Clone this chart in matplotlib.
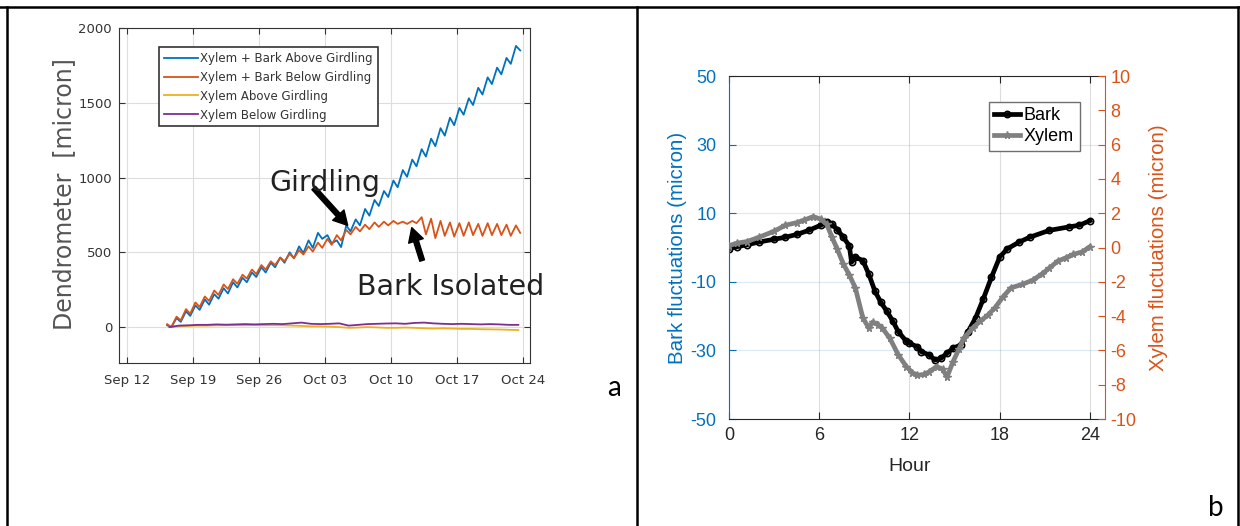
import numpy as np
import matplotlib
matplotlib.use("Agg")
import matplotlib.pyplot as plt
import matplotlib.dates as mdates
from matplotlib.lines import Line2D

plt.rcParams['axes.unicode_minus'] = False

# ---- panel a: dendrometer readings, Sep 16 - Oct 23 (daily high / daily low)
days = np.arange('2016-09-16', '2016-10-24', dtype='datetime64[D]')
bark_above_hi = [12, 60, 105, 145, 185, 220, 260, 300, 330, 365, 400, 430, 465, 500, 540, 580, 630, 615, 580,
                 680, 720, 790, 850, 910, 980, 1050, 1120, 1190, 1260, 1330, 1400, 1465, 1530, 1600, 1670,
                 1735, 1800, 1880]
bark_above_lo = [0, 35, 75, 115, 150, 190, 225, 265, 300, 335, 365, 400, 430, 460, 495, 530, 590, 560, 535,
                 640, 680, 745, 810, 870, 935, 1005, 1075, 1140, 1210, 1280, 1350, 1420, 1485, 1555, 1625,
                 1690, 1760, 1850]
bark_below_hi = [20, 70, 120, 165, 205, 245, 285, 320, 350, 385, 415, 440, 465, 490, 515, 540, 565, 590, 615,
                 650, 670, 685, 700, 705, 710, 705, 710, 735, 725, 710, 700, 695, 700, 690, 695, 690, 685, 680]
bark_below_lo = [0, 45, 90, 135, 175, 215, 255, 290, 325, 355, 385, 415, 440, 460, 485, 505, 530, 550, 580,
                 620, 640, 655, 670, 680, 690, 690, 695, 620, 595, 610, 605, 610, 615, 610, 615, 615, 610, 630]
xylem_above = [0, 5, 8, 10, 10, 12, 12, 13, 12, 14, 12, 13, 12, 10, 8, 5, 5, 3, 0, -5, -3, 0, -2, -5, -5, -3,
               -5, -8, -10, -8, -10, -12, -12, -14, -15, -16, -18, -20]
xylem_below = [0, 10, 12, 15, 15, 18, 16, 18, 20, 18, 20, 22, 20, 25, 30, 22, 20, 22, 25, 10, 15, 20, 22, 24,
               25, 22, 28, 30, 25, 22, 20, 22, 20, 18, 20, 18, 15, 15]
labels_a = ["Xylem + Bark Above Girdling", "Xylem + Bark Below Girdling",
            "Xylem Above Girdling", "Xylem Below Girdling"]

# ---- panel b: mean diurnal fluctuations
bark_hour = [0, 0.5, 1.2, 2, 3, 3.75, 4.5, 5.3, 6.1, 6.5, 6.85, 7.2, 7.6, 8.0, 8.15, 8.4, 8.9, 9.3, 9.7, 10.1,
             10.5, 10.9, 11.25, 11.8, 12.0, 12.5, 12.8, 13.3, 13.7, 14.1, 14.5, 14.9, 15.4, 15.9, 16.4, 16.9,
             17.45, 18.0, 18.5, 19.3, 20.0, 21.3, 22.6, 23.3, 24]
bark_val = [-0.3, 0.2, 0.8, 1.6, 2.4, 3.0, 3.8, 5.0, 6.5, 7.5, 6.8, 5.2, 3.0, 0.5, -4.3, -2.8, -3.8, -7.8,
            -12.7, -16.0, -18.6, -21.5, -24.5, -27.4, -27.9, -28.9, -30.4, -31.3, -32.8, -32.3, -30.8, -29.4,
            -28.4, -24.5, -20.5, -15.1, -8.7, -2.8, -0.4, 1.6, 3.0, 5.0, 6.0, 6.5, 7.8]
xylem_hour = [0, 0.5, 1.2, 2.0, 3.0, 3.75, 4.5, 5.0, 5.6, 6.1, 6.5, 6.85, 7.2, 7.6, 8.0, 8.4, 8.9, 9.3, 9.55,
              9.9, 10.2, 10.7, 11.25, 11.8, 12.2, 12.5, 13.0, 13.3, 13.8, 14.2, 14.5, 14.9, 15.3, 15.6, 16.2,
              16.7, 17.2, 17.7, 18.2, 18.75, 19.5, 20.2, 20.8, 21.3, 21.85, 22.4, 22.9, 23.5, 24]
xylem_val = [0.1, 0.25, 0.35, 0.6, 0.95, 1.3, 1.45, 1.6, 1.8, 1.65, 1.35, 0.6, -0.1, -0.95, -1.6, -2.35, -4.1,
             -4.7, -4.35, -4.5, -4.7, -5.3, -6.25, -6.95, -7.3, -7.45, -7.4, -7.25, -6.95, -7.1, -7.55, -6.65,
             -5.9, -5.3, -4.7, -4.3, -3.95, -3.5, -2.9, -2.35, -2.15, -1.9, -1.55, -1.2, -0.8, -0.6, -0.4,
             -0.25, 0.05]

BLUE = '#0072BD'
ORANGE = '#D95319'
YELLOW = '#EDB120'
PURPLE = '#7E2F8E'
ARIAL = 'Liberation Sans'

fig = plt.figure(figsize=(12.4, 5.26), dpi=100)

# table borders around the two panels
for xs, ys in [([0.0, 1.0], [0.9867, 0.9867]), ([0.0056, 0.0056], [0, 0.9867]),
               ([0.5137, 0.5137], [0, 0.9867]), ([0.9984, 0.9984], [0, 0.9867])]:
    fig.add_artist(Line2D(xs, ys, transform=fig.transFigure, color='black', lw=1.8))

# ================= panel a =================
ax = fig.add_axes([0.0960, 0.3099, 0.3315, 0.6369])
d = mdates.date2num(days)


def zigzag(hi, lo):
    t = np.empty(2 * len(d))
    v = np.empty(2 * len(d))
    t[0::2], t[1::2] = d + 0.25, d + 0.7
    v[0::2], v[1::2] = hi, lo
    return t, v


t, v = zigzag(bark_above_hi, bark_above_lo)
ax.plot(t, v, color=BLUE, lw=1.3, label=labels_a[0])
t, v = zigzag(bark_below_hi, bark_below_lo)
ax.plot(t, v, color=ORANGE, lw=1.3, label=labels_a[1])
ax.plot(d + 0.5, xylem_above, color=YELLOW, lw=1.3, label=labels_a[2])
ax.plot(d + 0.5, xylem_below, color=PURPLE, lw=1.3, label=labels_a[3])

x0 = mdates.date2num(np.datetime64('2016-09-12'))
ax.set_xlim(x0 - 0.85, x0 + 42.75)
ax.set_ylim(-240, 2000)
ax.set_xticks(mdates.date2num(np.arange('2016-09-12', '2016-10-25', 7, dtype='datetime64[D]')))
ax.xaxis.set_major_formatter(mdates.DateFormatter('%b %d'))
ax.set_yticks([0, 500, 1000, 1500, 2000])
ax.grid(True, color='#dddddd', lw=0.8)
ax.set_axisbelow(True)
ax.tick_params(direction='in', length=4, top=True, right=True, colors='#333333', labelsize=9.5)
ax.tick_params(axis='x', pad=8)
ax.tick_params(axis='y', pad=5)
for s in ax.spines.values():
    s.set_color('#333333')
ax.set_ylabel('Dendrometer  [micron]', fontsize=17, color='#555555')
ax.yaxis.set_label_coords(-0.105, 0.503)
leg = ax.legend(loc='upper left', bbox_to_anchor=(0.097, 0.943), borderaxespad=0, fontsize=8.5,
                handlelength=2.9, handletextpad=0.2, labelspacing=0.5, fancybox=False,
                framealpha=1, borderpad=0.4)
leg.get_frame().set_edgecolor('#333333')
leg.get_frame().set_linewidth(1.2)
for txt in leg.get_texts():
    txt.set_color('#333333')

# annotations
ax.annotate('', xy=(x0 + 23.4, 680), xytext=(x0 + 19.8, 930),
            arrowprops=dict(facecolor='black', edgecolor='black', width=3.5, headwidth=11, headlength=10,
                            shrink=0))
ax.annotate('', xy=(x0 + 30.2, 665), xytext=(x0 + 31.3, 445),
            arrowprops=dict(facecolor='black', edgecolor='black', width=3.5, headwidth=11, headlength=10,
                            shrink=0))
fig.text(325 / 1240, 1 - 183 / 526, 'Girdling', fontsize=20.5, ha='center', va='center', color='#222222')
fig.text(451 / 1240, 1 - 287 / 526, 'Bark Isolated', fontsize=20.5, ha='center', va='center', color='#222222')

# ================= panel b =================
axb = fig.add_axes([0.5879, 0.2034, 0.3032, 0.6521])
axr = axb.twinx()
l1, = axb.plot(bark_hour, bark_val, color='black', lw=3.4, marker='o', ms=4.5, mfc='none', mew=1.2,
               label='Bark')
l2, = axr.plot(xylem_hour, xylem_val, color='#808080', lw=3.4, marker='*', ms=5.5, label='Xylem')

axb.set_xlim(0, 25)
axb.set_ylim(-50, 50)
axr.set_ylim(-10, 10)
axb.set_xticks([0, 6, 12, 18, 24])
axb.set_yticks([-50, -30, -10, 10, 30, 50])
axr.set_yticks(range(-10, 11, 2))
axb.xaxis.grid(True, color='#262626', alpha=0.15, lw=0.8)
axb.yaxis.grid(True, color=BLUE, alpha=0.15, lw=0.8)
axb.set_axisbelow(True)

for lab in axb.get_xticklabels() + axb.get_yticklabels() + axr.get_yticklabels():
    lab.set_family(ARIAL)
axb.tick_params(axis='x', direction='in', length=5, top=True, colors='#262626', labelsize=13, pad=6)
axb.tick_params(axis='y', direction='in', length=5, colors=BLUE, labelsize=13, pad=9)
axr.tick_params(axis='y', direction='in', length=5, colors=ORANGE, labelsize=13, pad=4)
axb.spines['left'].set_color(BLUE)
axb.spines['right'].set_visible(False)
axb.spines['top'].set_color('#262626')
axb.spines['bottom'].set_color('#262626')
for k in ['left', 'top', 'bottom']:
    axr.spines[k].set_visible(False)
axr.spines['right'].set_color(ORANGE)

axb.set_xlabel('Hour', fontsize=14, color='#262626', family=ARIAL)
axb.xaxis.set_label_coords(0.48, -0.115)
axb.set_ylabel('Bark fluctuations (micron)', fontsize=14.8, color=BLUE, family=ARIAL)
axb.yaxis.set_label_coords(-0.112, 0.5)
axr.set_ylabel('Xylem fluctuations (micron)', fontsize=14.8, color=ORANGE, family=ARIAL)
axr.yaxis.set_label_coords(1.117, 0.5)

legb = axr.legend([l1, l2], ['Bark', 'Xylem'], loc='upper left', bbox_to_anchor=(0.691, 0.924),
                  borderaxespad=0, prop={'family': ARIAL, 'size': 13}, handlelength=1.45,
                  handletextpad=0.2, labelspacing=0.2, borderpad=0.3, fancybox=False, framealpha=1)
legb.get_frame().set_edgecolor('#707070')
legb.get_frame().set_linewidth(1.0)

# panel letters
fig.text(614 / 1240, 1 - 388 / 526, 'a', fontsize=20, ha='center', va='center', family='Lato')
fig.text(1216 / 1240, 1 - 508 / 526, 'b', fontsize=20, ha='center', va='center', family='Lato')

fig.savefig('out.png', dpi=100)
